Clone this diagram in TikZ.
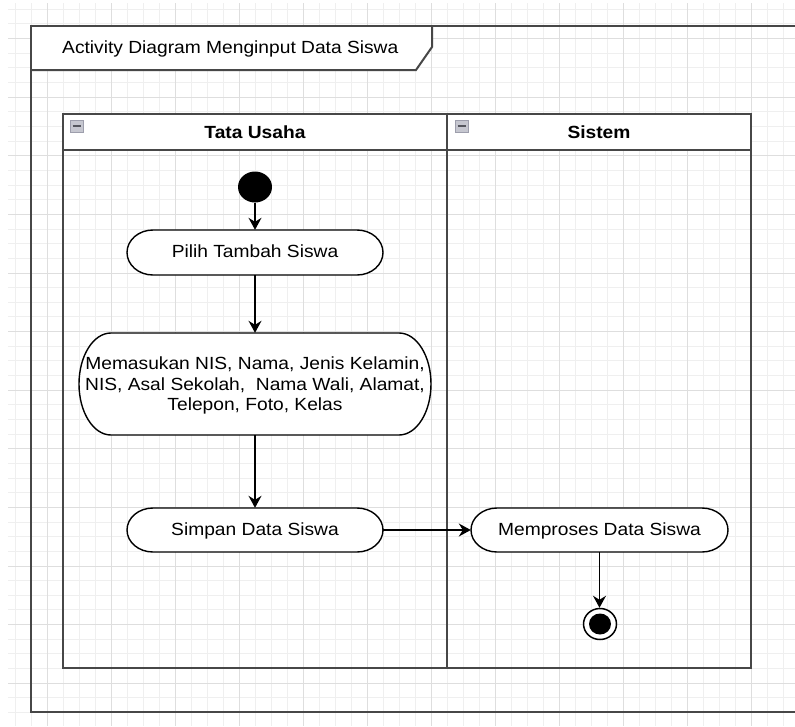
\documentclass[tikz,border=0pt]{standalone}
\usepackage{fontspec}
\setmainfont{Liberation Sans}
\usetikzlibrary{arrows.meta,shapes.geometric}

\definecolor{gridminor}{HTML}{EFEFEF}
\definecolor{gridmajor}{HTML}{DEDEDE}
\definecolor{frameline}{HTML}{474747}
\definecolor{iconfill}{HTML}{C6C7D0}
\definecolor{iconedge}{HTML}{9D9EAC}
\definecolor{iconline}{HTML}{55565E}

% text set a little narrower vertically than its width
\newcommand\squash[1]{\scalebox{1}[0.916]{#1}}
% stadium outline: centre x, centre y, half width, half height, end radius
\newcommand\actshape[5]{%
  \draw[actline, fill=white] ({#1-#3+#5},{#2-#4}) -- ({#1+#3-#5},{#2-#4})
    arc[start angle=-90, end angle=90, x radius=#5, y radius=#4]
    -- ({#1-#3+#5},{#2+#4})
    arc[start angle=90, end angle=270, x radius=#5, y radius=#4] -- cycle;}
% collapse button of a swimlane header: left x, top y
\newcommand\laneicon[2]{%
  \draw[fill=iconfill, draw=iconedge, line width=1pt] (#1,#2) rectangle ({#1+13},{#2+12});
  \draw[iconline, line width=2pt] ({#1+2.5},{#2+6}) -- ({#1+10.5},{#2+6});}

\tikzset{
  gridmin/.style={draw=gridminor, line width=1pt},
  gridmaj/.style={draw=gridmajor, line width=1pt},
  frame/.style={draw=frameline, line width=2pt},
  actline/.style={draw=black, line width=1.4pt},
  acttext/.style={font=\fontsize{19.2}{22.5}\selectfont, inner sep=0pt,
    align=center, text height=13pt, text depth=3pt},
  actbox/.style={font=\fontsize{19.2}{22.5}\selectfont, inner sep=0pt, align=center},
  lanetitle/.style={font=\bfseries\fontsize{19.2}{22.5}\selectfont, anchor=base, inner sep=0pt},
  titletext/.style={font=\fontsize{19.2}{22.5}\selectfont, anchor=base west, inner sep=0pt},
  startst/.style={ellipse, fill=black, minimum width=34pt, minimum height=31pt, inner sep=0pt},
  finalst/.style={ellipse, draw=black, line width=1.5pt, fill=white,
    minimum width=33pt, minimum height=31pt, inner sep=0pt},
  finaldot/.style={ellipse, fill=black, minimum width=22pt, minimum height=21pt, inner sep=0pt},
  flow/.style={draw=black, line width=1.4pt,
    -{Stealth[length=12pt, width=13pt, inset=4pt]}},
}

\begin{document}
\begin{tikzpicture}[x=1pt, y=-1pt]
\useasboundingbox (0,0) rectangle (795,726);
\fill[white] (0,0) rectangle (795,726);

\begin{scope}
  \clip (0,0) rectangle (795,726);
  % background grid
  \foreach \i in {0,...,49} \draw[gridmin] ({15+16*\i},3) -- ({15+16*\i},726);
  \foreach \j in {0,...,49} \draw[gridmin] (8,{9.3+14.65*\j}) -- (795,{9.3+14.65*\j});
  \foreach \i in {0,...,12} \draw[gridmaj] ({47+64*\i},3) -- ({47+64*\i},726);
  \foreach \j in {0,...,12} \draw[gridmaj] (8,{38.6+58.6*\j}) -- (795,{38.6+58.6*\j});
  % outer frame, running off to the right
  \draw[frame] (805,26) -- (31,26) -- (31,712) -- (805,712);
\end{scope}

% name tab of the frame
\fill[white] (32,27) -- (431,27) -- (431,47) -- (416,69) -- (32,69) -- cycle;
\draw[frame] (31,70) -- (416,70) -- (432,47) -- (432,26);
\node[titletext] (title) at (62,53.5) {\squash{Activity Diagram Menginput Data Siswa}};

% swimlanes
\fill[white] (63,114) rectangle (751,150);
\draw[frame] (63,114) rectangle (751,668);
\draw[frame] (447,114) -- (447,668);
\draw[frame] (63,150) -- (751,150);
\laneicon{70}{120}
\laneicon{455}{120}
\node[lanetitle] (laneTU) at (255,138) {\squash{Tata Usaha}};
\node[lanetitle] (laneSys) at (599,138) {\squash{Sistem}};

% activities
\actshape{255}{252.5}{128}{22.5}{26}
\node[acttext, minimum width=256pt, minimum height=45pt] (pilih) at (255,252.5)
  {\squash{Pilih Tambah Siswa}};

\actshape{255}{384}{176}{51}{32}
\node[actbox, minimum width=352pt, minimum height=102pt] (masuk) at (255,384)
  {\squash{\begin{tabular}{@{}c@{}}\rule{0pt}{20.5pt}Memasukan NIS, Nama, Jenis Kelamin,\\
   NIS, Asal Sekolah,~ Nama Wali, Alamat,\\ Telepon, Foto, Kelas\end{tabular}}};

\actshape{255}{530}{128}{22}{26}
\node[acttext, minimum width=256pt, minimum height=44pt] (simpan) at (255,530)
  {\squash{Simpan Data Siswa}};

\actshape{599.5}{530}{128.5}{22}{26}
\node[acttext, minimum width=257pt, minimum height=44pt] (proses) at (599.5,530)
  {\squash{Memproses Data Siswa}};

% initial and final states
\node[startst] (start) at (255,187) {};
\node[finalst] (final) at (600,624) {};
\node[finaldot] (finaldot) at (final.center) {};

% control flow
\draw[flow] (start) -- (pilih);
\draw[flow] (pilih) -- (masuk);
\draw[flow] (masuk) -- (simpan);
\draw[flow] (simpan) -- (proses);
\draw[flow] (proses.south) -- (proses.south |- final.north);
\end{tikzpicture}
\end{document}
